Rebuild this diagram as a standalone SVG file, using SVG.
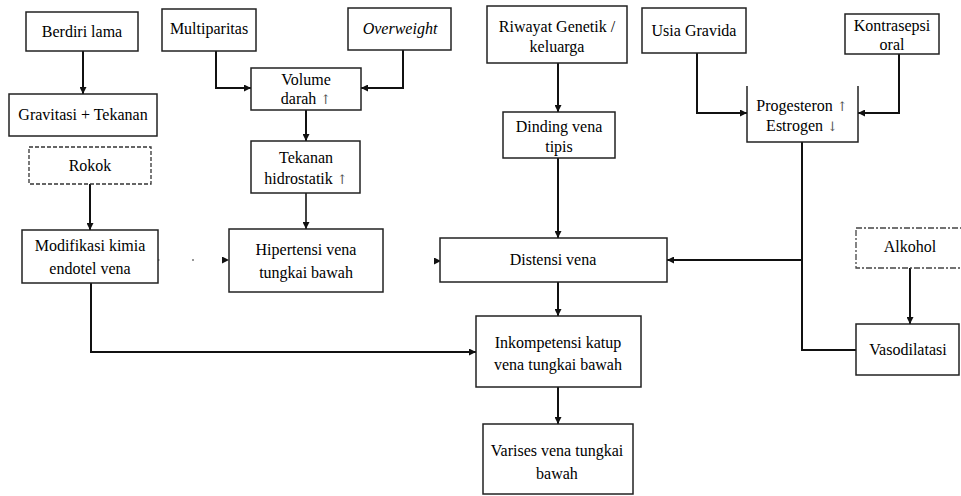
<svg xmlns="http://www.w3.org/2000/svg" width="961" height="496" viewBox="0 0 961 496">
<defs>
  <marker id="ah" markerUnits="userSpaceOnUse" markerWidth="7" markerHeight="7" refX="7" refY="3.5" orient="auto">
    <path d="M0,0 L7,3.5 L0,7 z" fill="#111"/>
  </marker>
</defs>
<rect width="961" height="496" fill="#fff"/>

<g id="connectors" fill="none" stroke="#111" stroke-width="2">
  <path d="M83,51 V94" marker-end="url(#ah)"/>
  <path d="M90,184 V230" marker-end="url(#ah)"/>
  <path d="M91,283 V352 H476" marker-end="url(#ah)"/>
  <path d="M216,51 V88 H251" marker-end="url(#ah)"/>
  <path d="M403,50 V88 H361" marker-end="url(#ah)"/>
  <path d="M306,110 V141" marker-end="url(#ah)"/>
  <path d="M306,193 V229" stroke="#444" marker-end="url(#ah)"/>
  <path d="M558,63 V112" marker-end="url(#ah)"/>
  <path d="M558,158 V238" marker-end="url(#ah)"/>
  <path d="M697,53 V113 H747" marker-end="url(#ah)"/>
  <path d="M899,54 V113 H858" marker-end="url(#ah)"/>
  <path d="M802,142 V350 H856"/>
  <path d="M802,260 H667" marker-end="url(#ah)"/>
  <path d="M910,268 V324" marker-end="url(#ah)"/>
  <path d="M558,282 V316" marker-end="url(#ah)"/>
  <path d="M558,387 V424" marker-end="url(#ah)"/>
  <path d="M159,260 H229" stroke="#fff" stroke-width="1" marker-end="url(#ah)"/>
  <rect x="158" y="259" width="1.5" height="2" fill="#999" stroke="none"/>
  <rect x="192" y="259" width="2" height="2" fill="#999" stroke="none"/>
  <path d="M383,261 H441" stroke="#fff" stroke-width="1" marker-end="url(#ah)"/>
</g>

<g id="berdiri"><rect x="26" y="12" width="112" height="39" fill="#fff" stroke="#222" stroke-width="1.5"/><text font-family="Liberation Serif" font-size="16" text-anchor="middle" x="82" y="37">Berdiri lama</text></g>
<g id="gravitasi"><rect x="9" y="94" width="148" height="42" fill="#fff" stroke="#222" stroke-width="1.5"/><text font-family="Liberation Serif" font-size="16" text-anchor="middle" x="83" y="120">Gravitasi + Tekanan</text></g>
<g id="rokok"><rect x="29" y="147" width="122" height="37" fill="#fff" stroke="#333" stroke-width="1.3" stroke-dasharray="4 2"/><text font-family="Liberation Serif" font-size="16" text-anchor="middle" x="90" y="171">Rokok</text></g>
<g id="modifikasi"><rect x="22" y="230" width="136" height="53" fill="#fff" stroke="#222" stroke-width="1.5"/><text font-family="Liberation Serif" font-size="16" text-anchor="middle" x="90" y="251">Modifikasi kimia</text><text font-family="Liberation Serif" font-size="16" text-anchor="middle" x="90" y="274">endotel vena</text></g>
<g id="multiparitas"><rect x="162" y="9" width="94" height="42" fill="#fff" stroke="#222" stroke-width="1.5"/><text font-family="Liberation Serif" font-size="16" text-anchor="middle" x="209" y="34">Multiparitas</text></g>
<g id="overweight"><rect x="348" y="8" width="103" height="42" fill="#fff" stroke="#222" stroke-width="1.5"/><text font-family="Liberation Serif" font-size="16" text-anchor="middle" font-style="italic" x="400" y="34">Overweight</text></g>
<g id="volume"><rect x="251" y="68" width="110" height="42" fill="#fff" stroke="#222" stroke-width="1.5"/><text font-family="Liberation Serif" font-size="16" text-anchor="middle" x="306" y="85">Volume</text><text font-family="Liberation Serif" font-size="16" text-anchor="middle" x="306" y="104">darah <tspan font-family="DejaVu Serif" font-size="13" fill="#555">↑</tspan></text></g>
<g id="tekanan"><rect x="251" y="141" width="109" height="52" fill="#fff" stroke="#222" stroke-width="1.5"/><text font-family="Liberation Serif" font-size="16" text-anchor="middle" x="306" y="163">Tekanan</text><text font-family="Liberation Serif" font-size="16" text-anchor="middle" x="306" y="184">hidrostatik <tspan font-family="DejaVu Serif" font-size="13" fill="#555">↑</tspan></text></g>
<g id="hipertensi"><rect x="229" y="229" width="154" height="63" fill="#fff" stroke="#222" stroke-width="1.5"/><text font-family="Liberation Serif" font-size="16" text-anchor="middle" x="306" y="255">Hipertensi vena</text><text font-family="Liberation Serif" font-size="16" text-anchor="middle" x="306" y="278">tungkai bawah</text></g>
<g id="riwayat"><rect x="487" y="6" width="140" height="57" fill="#fff" stroke="#222" stroke-width="1.5"/><text font-family="Liberation Serif" font-size="16" text-anchor="middle" x="557" y="32">Riwayat Genetik /</text><text font-family="Liberation Serif" font-size="16" text-anchor="middle" x="557" y="52">keluarga</text></g>
<g id="dinding"><rect x="503" y="112" width="112" height="46" fill="#fff" stroke="#222" stroke-width="1.5"/><text font-family="Liberation Serif" font-size="16" text-anchor="middle" x="559" y="132">Dinding vena</text><text font-family="Liberation Serif" font-size="16" text-anchor="middle" x="559" y="152">tipis</text></g>
<g id="distensi"><rect x="440" y="238" width="227" height="44" fill="#fff" stroke="#222" stroke-width="1.5"/><text font-family="Liberation Serif" font-size="16" text-anchor="middle" x="553" y="265">Distensi vena</text></g>
<g id="usia"><rect x="642" y="8" width="104" height="45" fill="#fff" stroke="#222" stroke-width="1.5"/><text font-family="Liberation Serif" font-size="16" text-anchor="middle" x="694" y="36">Usia Gravida</text></g>
<g id="kontrasepsi"><rect x="845" y="14" width="94" height="40" fill="#fff" stroke="#222" stroke-width="1.5"/><text font-family="Liberation Serif" font-size="16" text-anchor="middle" x="892" y="31">Kontrasepsi</text><text font-family="Liberation Serif" font-size="16" text-anchor="middle" x="892" y="50">oral</text></g>
<g id="progesteron"><rect x="747" y="86" width="111" height="56" fill="#fff"/><path d="M747,86 V142 H858 V86" fill="none" stroke="#222" stroke-width="1.5"/><text font-family="Liberation Serif" font-size="16" text-anchor="middle" x="802" y="111">Progesteron <tspan font-family="DejaVu Serif" font-size="13" fill="#555">↑</tspan></text><text font-family="Liberation Serif" font-size="16" text-anchor="middle" x="802" y="131">Estrogen <tspan font-family="DejaVu Serif" font-size="13" fill="#555">↓</tspan></text></g>
<g id="alkohol"><rect x="856" y="228" width="108" height="40" fill="#fff" stroke="#444" stroke-width="1.3" stroke-dasharray="6 2 2 2"/><text font-family="Liberation Serif" font-size="16" text-anchor="middle" x="910" y="252">Alkohol</text></g>
<g id="vasodilatasi"><rect x="856" y="324" width="103" height="51" fill="#fff" stroke="#222" stroke-width="1.5"/><text font-family="Liberation Serif" font-size="16" text-anchor="middle" x="908" y="355">Vasodilatasi</text></g>
<g id="inkompetensi"><rect x="476" y="316" width="165" height="71" fill="#fff" stroke="#222" stroke-width="1.5"/><text font-family="Liberation Serif" font-size="16" text-anchor="middle" x="558" y="348">Inkompetensi katup</text><text font-family="Liberation Serif" font-size="16" text-anchor="middle" x="558" y="370">vena tungkai bawah</text></g>
<g id="varises"><rect x="483" y="424" width="150" height="70" fill="#fff" stroke="#222" stroke-width="1.5"/><text font-family="Liberation Serif" font-size="16" text-anchor="middle" x="557" y="456">Varises vena tungkai</text><text font-family="Liberation Serif" font-size="16" text-anchor="middle" x="557" y="479">bawah</text></g>
</svg>
